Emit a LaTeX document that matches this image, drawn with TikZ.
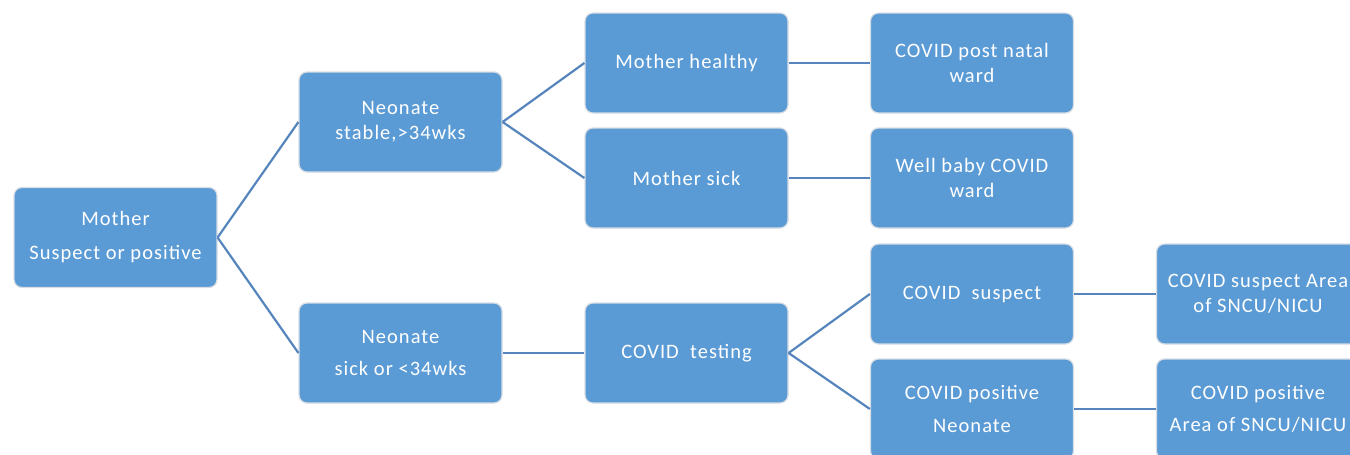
\documentclass[tikz,border=0pt]{standalone}
\usepackage{fontspec}
\setmainfont[LetterSpace=5]{Carlito}
\definecolor{boxfill}{HTML}{5B9BD5}
\definecolor{linec}{HTML}{5585BC}
\definecolor{boxedge}{HTML}{D8DDE3}
\begin{document}
\begin{tikzpicture}[x=1pt,y=-1pt,
  box/.style={rectangle, rounded corners=8pt, fill=boxfill, draw=boxedge, line width=1.2pt,
    minimum width=203pt, minimum height=100pt, inner sep=0pt, align=center,
    text=white, font=\fontsize{20.5}{25}\selectfont},
  conn/.style={draw=linec, line width=2.2pt}]
\useasboundingbox (0,0) rectangle (1350,455);
\node[box] (mother) at (115.5,237.5) {Mother\\[9pt]Suspect or positive};
\node[box] (stable) at (400.5,122) {Neonate\\stable,>34wks};
\node[box] (sick) at (400.5,353) {Neonate\\[7pt]sick or <34wks};
\node[box] (mhealthy) at (686.5,63) {Mother healthy};
\node[box] (msick) at (686.5,178) {Mother sick};
\node[box] (testing) at (686.5,353) {COVID\ \ testing};
\node[box] (postnatal) at (972,63) {COVID post natal\\ward};
\node[box] (wellbaby) at (972,178) {Well baby COVID\\ward};
\node[box] (csusp) at (972,294) {COVID\ \ suspect};
\node[box] (cpos) at (972,409) {COVID positive\\[8pt]Neonate};
\node[box] (suspArea) at (1258,294) {COVID suspect Area\\of SNCU/NICU};
\node[box] (posArea) at (1258,409) {COVID positive\\[7pt]Area of SNCU/NICU};
\draw[conn] (mother.east) -- (stable.west);
\draw[conn] (mother.east) -- (sick.west);
\draw[conn] (stable.east) -- (mhealthy.west);
\draw[conn] (stable.east) -- (msick.west);
\draw[conn] (mhealthy.east) -- (postnatal.west);
\draw[conn] (msick.east) -- (wellbaby.west);
\draw[conn] (sick.east) -- (testing.west);
\draw[conn] (testing.east) -- (csusp.west);
\draw[conn] (testing.east) -- (cpos.west);
\draw[conn] (csusp.east) -- (suspArea.west);
\draw[conn] (cpos.east) -- (posArea.west);
\end{tikzpicture}
\end{document}
